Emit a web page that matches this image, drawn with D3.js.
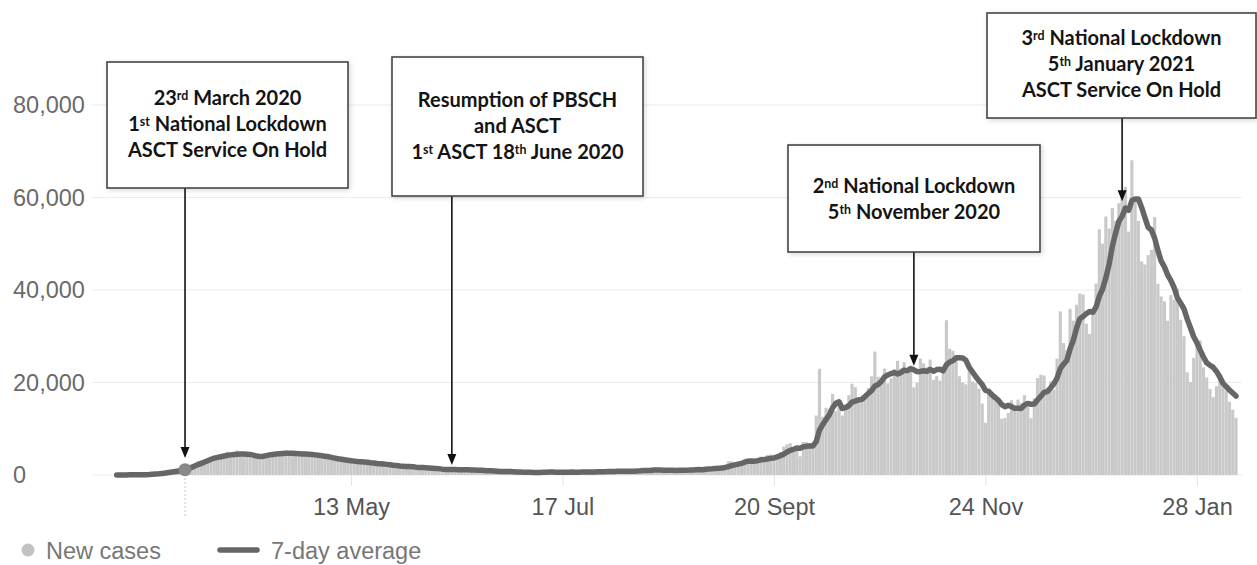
<!DOCTYPE html>
<html>
<head>
<meta charset="utf-8">
<script src="https://cdn.jsdelivr.net/npm/d3@7"></script>
<style>
  html, body { margin: 0; padding: 0; background: #fff; }
  svg { display: block; }
</style>
</head>
<body>
<svg id="chart" width="1257" height="565"></svg>
<script>
// ---------------- DATA ----------------
const startDate = "2020-03-02";   // first day of the series (UTC)

// Daily new cases, one value per day from 2 Mar 2020 to 9 Feb 2021
const newCases = [
  // Mar 2020 (2-31)
  13,13,34,29,48,45,69,43,67,48,134,208,342,251,152,407,676,643,714,1035,665,1200,1900,2200,2600,3000,3200,3300,3600,3900,
  // Apr
  4100,4000,4300,3700,5000,4000,4400,5300,4600,4900,4800,3900,3800,3600,4200,4300,4600,4900,4200,4000,4500,4700,5300,4900,4800,4500,4000,4200,4900,4700,
  // May
  5000,4300,3900,3600,4000,4600,4200,3700,3200,3100,3000,3300,3400,3000,2900,2700,2500,2400,3000,2800,2600,2700,2300,2100,1700,2200,2100,1900,1800,1700,1500,
  // Jun
  1400,1500,1700,1600,1500,1400,1150,1050,1250,950,1150,1350,1250,1200,900,1100,1000,1050,1150,1100,1000,800,750,600,950,850,750,750,650,600,
  // Jul
  829,576,544,624,516,352,581,630,642,512,820,650,530,598,538,463,687,827,580,725,445,560,769,768,668,747,685,581,763,846,880,
  // Aug
  743,744,938,670,892,950,871,758,1062,1063,1148,1009,950,1441,1012,1040,713,1089,812,1182,1033,1288,1041,853,1184,1048,1522,1276,1108,1715,1406,
  // Sep
  1295,1508,1735,1940,1813,2988,2948,2420,2659,2919,3539,3497,3330,2621,3105,3991,3395,4322,4422,3899,4368,4926,6178,6634,6874,6042,5693,4044,7143,7108,
  // Oct
  6914,6968,12872,22961,12594,14542,14162,17540,13864,15166,12872,13972,17234,19724,18980,15650,16171,16982,18804,21331,26688,21242,20530,23012,19790,20890,22885,24701,23065,24405,21915,
  // Nov
  23254,18950,20018,25177,24141,23287,24957,20572,21350,20412,22950,33470,27301,26860,24962,21363,20051,19609,22915,20252,19875,18662,15450,11299,18213,17555,16022,15871,12155,12330,
  // Dec
  13430,16170,14879,16298,15539,17272,14718,12282,16578,20964,21672,21502,18447,20263,18450,25161,35383,28507,27052,35928,33364,36804,39237,39036,32725,30501,34693,41385,53135,50023,55892,
  // Jan 2021
  53285,57725,54990,58784,60916,62322,52618,68053,59937,54940,46169,45533,47525,48682,55761,41346,38598,37535,33355,38905,37892,40261,33552,30004,22195,20089,25308,28680,29079,23275,21088,
  // Feb (1-9)
  18607,16840,19202,20634,19114,18262,15845,14104,12364
];

// 7-day average, one value per day over the same dates
const sevenDayAverage = [
  // Mar 2020
  10,10,20,20,30,40,40,50,50,60,90,150,200,250,330,420,550,650,750,880,1000,1150,1400,1650,1950,2250,2500,2800,3100,3400,
  // Apr
  3650,3800,3950,4100,4250,4350,4450,4500,4550,4550,4500,4450,4300,4100,4000,4050,4200,4350,4450,4550,4600,4650,4700,4700,4700,4650,4600,4550,4550,4500,
  // May
  4450,4350,4250,4150,4050,3950,3800,3650,3500,3400,3300,3200,3100,3000,2900,2850,2800,2750,2650,2600,2500,2450,2400,2300,2200,2100,2050,1950,1900,1850,1820,
  // Jun
  1800,1700,1643,1600,1557,1514,1464,1414,1379,1271,1207,1186,1164,1171,1150,1129,1136,1121,1093,1071,1043,1029,979,921,907,864,814,779,757,736,
  // Jul
  768,715,671,653,620,577,575,546,556,551,579,598,624,626,613,587,612,613,603,631,609,612,656,668,645,669,663,683,712,723,739,
  // Aug
  749,749,785,798,816,831,830,832,877,895,963,980,980,1062,1098,1095,1045,1036,1008,1041,983,1022,1023,1043,1056,1090,1138,1173,1147,1244,1323,
  // Sep
  1339,1404,1435,1530,1630,1812,2032,2193,2358,2527,2755,2996,3045,2998,3096,3286,3354,3466,3598,3679,3929,4189,4501,4964,5329,5560,5816,5770,6087,6220,
  // Oct
  6260,6273,7249,9716,10937,11994,13002,14520,15505,15833,14391,14588,14973,15767,15973,16228,16372,16959,17649,18235,19229,19553,20250,21227,21628,21926,22148,21864,22125,22678,22522,
  // Nov
  23016,22739,22330,22398,22551,22392,22826,22443,22786,22842,22524,23857,24430,24702,25329,25331,25280,24802,23294,22287,21290,20390,19545,18295,18095,17329,16725,16153,15224,14778,
  // Dec
  15082,14790,14408,14448,14400,15131,15472,15308,15367,16236,17004,17855,18023,18815,19697,20923,22983,23959,24752,27249,29121,31743,33754,34275,34878,35371,35194,36340,38673,40214,42622,
  // Jan 2021
  45559,49448,52348,54833,55945,57702,57234,59344,59660,59653,57851,55653,53539,52977,51221,48565,46231,44997,43257,42026,40485,38270,37157,35929,33738,31843,29900,28584,26987,25519,24245,
  // Feb
  23732,23268,22396,21246,19823,19107,18358,17714,17075
];

// Axis ticks
const yTickValues = [0, 20000, 40000, 60000, 80000];
const xTickDates  = ["2020-05-13", "2020-07-17", "2020-09-20", "2020-11-24", "2021-01-28"];
const xTickLabels = ["13 May", "17 Jul", "20 Sept", "24 Nov", "28 Jan"];

// Highlighted point
const highlightDate = "2020-03-23";

// Legend
const legendLabels = ["New cases", "7-day average"];

// Annotations (text uses ^..^ for superscripts)
const annotationDates  = ["2020-03-23", "2020-06-13", "2020-11-02", "2021-01-05"];
const annotationTips   = [3700, 2150, 23600, 59200];
const annotationTexts  = [
  ["23^rd^ March 2020", "1^st^ National Lockdown", "ASCT Service On Hold"],
  ["Resumption of PBSCH", "and ASCT", "1^st^ ASCT 18^th^ June 2020"],
  ["2^nd^ National Lockdown", "5^th^ November 2020"],
  ["3^rd^ National Lockdown", "5^th^ January 2021", "ASCT Service On Hold"]
];

// ---------------- LAYOUT ----------------
const W = 1257, H = 565;
const plotLeft = 116.7, plotRight = 1236;  // first / last day centres
const yZero = 475, yTop = 105;             // 0 and 80,000
const annotationBoxes = [                  // x, y, w, h, first baseline
  {x: 107, y: 62,  w: 241, h: 126, base: 105},
  {x: 392, y: 57,  w: 251, h: 139, base: 107},
  {x: 788, y: 145, w: 252, h: 107, base: 193},
  {x: 987, y: 13,  w: 269, h: 105, base: 45}
];

const parse = d3.utcParse("%Y-%m-%d");
const t0 = parse(startDate);
const data = newCases.map((v, i) => ({
  date: d3.utcDay.offset(t0, i),
  cases: v,
  avg: sevenDayAverage[i]
}));

const x = d3.scaleUtc()
  .domain([data[0].date, data[data.length - 1].date])
  .range([plotLeft, plotRight]);
const y = d3.scaleLinear().domain([0, 80000]).range([yZero, yTop]);

const svg = d3.select("#chart");
svg.append("rect").attr("width", W).attr("height", H).attr("fill", "#fff");

const defs = svg.append("defs");
const f = defs.append("filter").attr("id", "shadow")
  .attr("x", "-10%").attr("y", "-10%").attr("width", "120%").attr("height", "130%");
f.append("feDropShadow").attr("dx", 1.5).attr("dy", 1.5)
  .attr("stdDeviation", 2.5).attr("flood-color", "#000").attr("flood-opacity", 0.16);

const axisFont = "'Liberation Sans', Arial, sans-serif";

// Gridlines
svg.append("g").selectAll("line").data(yTickValues).join("line")
  .attr("x1", 92).attr("x2", 1242)
  .attr("y1", d => y(d)).attr("y2", d => y(d))
  .attr("stroke", "#ececec").attr("stroke-width", 1.2);

// Y axis labels (left aligned)
const yAxis = d3.axisRight(y).tickValues(yTickValues)
  .tickFormat(d3.format(",")).tickSize(0).tickPadding(0);
const gy = svg.append("g").attr("transform", "translate(13,0)").call(yAxis);
gy.select(".domain").remove();
gy.selectAll("text")
  .attr("font-family", axisFont).attr("font-size", 23.5)
  .attr("fill", "#6a6a6a").attr("text-anchor", "start");

// X axis
const xAxis = d3.axisBottom(x)
  .tickValues(xTickDates.map(parse))
  .tickFormat((d, i) => xTickLabels[i])
  .tickSize(11).tickPadding(12);
const gx = svg.append("g").attr("transform", `translate(0,${yZero})`).call(xAxis);
gx.select(".domain").remove();
gx.selectAll(".tick line").attr("stroke", "#e3e3e3").attr("stroke-width", 1);
gx.selectAll("text")
  .attr("font-family", axisFont).attr("font-size", 23.5).attr("fill", "#555");

// Bars
const barW = 3.15;
svg.append("g").selectAll("rect").data(data).join("rect")
  .attr("x", d => x(d.date) - barW / 2)
  .attr("width", barW)
  .attr("y", d => y(d.cases))
  .attr("height", d => yZero - y(d.cases))
  .attr("fill", "#c9c9c9");

// 7-day average line
const line = d3.line().x(d => x(d.date)).y(d => y(d.avg)).curve(d3.curveLinear);
svg.append("path").datum(data)
  .attr("d", line)
  .attr("fill", "none")
  .attr("stroke", "#666")
  .attr("stroke-width", 5.5)
  .attr("stroke-linejoin", "round")
  .attr("stroke-linecap", "round");

// Highlighted point + dotted guide
const hd = parse(highlightDate);
const hp = data.find(d => +d.date === +hd);
svg.append("line")
  .attr("x1", x(hd)).attr("x2", x(hd))
  .attr("y1", yZero + 3).attr("y2", 518)
  .attr("stroke", "#cfcfcf").attr("stroke-width", 1.2)
  .attr("stroke-dasharray", "2,2");
svg.append("circle")
  .attr("cx", x(hd)).attr("cy", y(hp.avg)).attr("r", 6.5)
  .attr("fill", "#888");

// Annotations
const annFont = "Lato, 'Open Sans', sans-serif";
function addRichText(sel, str) {
  const parts = str.split("^");
  parts.forEach((p, i) => {
    if (!p) return;
    const sup = i % 2 === 1;
    sel.append("tspan")
      .attr("font-size", sup ? "62%" : null)
      .attr("baseline-shift", sup ? "40%" : null)
      .text(p);
  });
}
annotationTexts.forEach((lines, k) => {
  const b = annotationBoxes[k];
  const ax = x(parse(annotationDates[k]));
  const tipY = y(annotationTips[k]);
  const g = svg.append("g");
  // arrow
  g.append("line")
    .attr("x1", ax).attr("x2", ax)
    .attr("y1", b.y + b.h).attr("y2", tipY - 9)
    .attr("stroke", "#111").attr("stroke-width", 1.6);
  g.append("path")
    .attr("d", `M${ax - 4.5},${tipY - 11} L${ax + 4.5},${tipY - 11} L${ax},${tipY} Z`)
    .attr("fill", "#111");
  // box
  g.append("rect")
    .attr("x", b.x).attr("y", b.y).attr("width", b.w).attr("height", b.h)
    .attr("fill", "#fff").attr("stroke", "#454545").attr("stroke-width", 1.6)
    .attr("filter", "url(#shadow)");
  lines.forEach((ln, j) => {
    const t = g.append("text")
      .attr("x", b.x + b.w / 2)
      .attr("y", b.base + j * 26)
      .attr("text-anchor", "middle")
      .attr("font-family", annFont)
      .attr("font-weight", 700)
      .attr("font-size", 20)
      .attr("fill", "#141414");
    addRichText(t, ln);
  });
});

// Legend
const lg = svg.append("g").attr("font-family", axisFont).attr("font-size", 23.5).attr("fill", "#777");
lg.append("circle").attr("cx", 28).attr("cy", 550).attr("r", 6.5).attr("fill", "#c2c2c2");
lg.append("text").attr("x", 46).attr("y", 558.5).text(legendLabels[0]);
lg.append("line").attr("x1", 220).attr("x2", 257).attr("y1", 550).attr("y2", 550)
  .attr("stroke", "#666").attr("stroke-width", 5.5).attr("stroke-linecap", "round");
lg.append("text").attr("x", 271).attr("y", 558.5).text(legendLabels[1]);
</script>
</body>
</html>
